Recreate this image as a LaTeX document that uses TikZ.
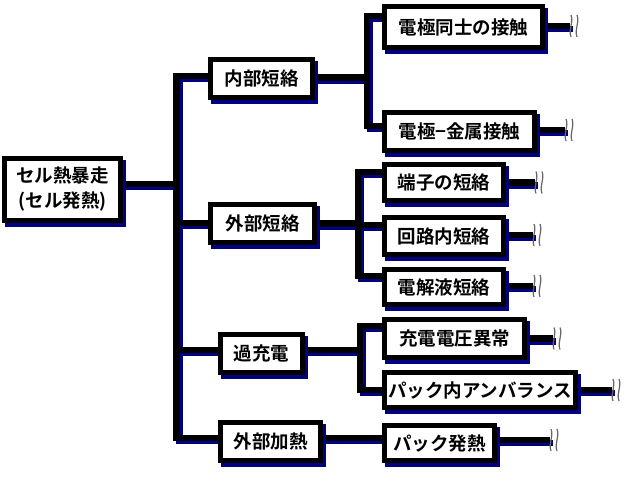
\documentclass[tikz,border=0pt]{standalone}
\usepackage{fontspec}
\newfontfamily\jp{Noto Sans CJK JP Bold}
\usetikzlibrary{shadows}
\definecolor{shblue}{RGB}{0,0,128}
\pgfdeclarelayer{bg}
\pgfsetlayers{bg,main}
\begin{document}
\begin{tikzpicture}[x=1pt,y=-1pt,
  box/.style={draw=black, line width=5pt, fill=white, inner sep=0pt,
    font=\jp\fontsize{18.5}{25}\selectfont, align=center,
    general shadow={fill=shblue, draw=shblue, line width=5pt, shadow xshift=3pt, shadow yshift=-3.5pt}},
  conn/.style={line width=6.5pt, draw=black,
    preaction={draw=shblue, line width=6.5pt, transform canvas={xshift=3pt, yshift=-3pt}}},
  brk/.pic={\draw[line width=1.2pt, black!60]
     (1,-11) .. controls (4,-3) and (-2,3) .. (1,11)
     (7,-11) .. controls (10,-3) and (4,3) .. (7,11);}
  ]
\useasboundingbox (0,0) rectangle (631,485);

% root and level 1
\node[box, minimum width=116pt, minimum height=62pt] (root) at (62.5,189.5) {セル熱暴走\\(セル発熱)};
\node[box, minimum width=102pt, minimum height=38pt] (n1) at (261.5,78.5) {内部短絡};
\node[box, minimum width=104pt, minimum height=38pt] (n2) at (262.5,223.5) {外部短絡};
\node[box, minimum width=82pt, minimum height=38pt] (n3) at (261.5,353.5) {過充電};
\node[box, minimum width=100pt, minimum height=38pt] (n4) at (270.5,441.5) {外部加熱};

% level 2
\node[box, minimum width=158pt, minimum height=41pt] (m1) at (463.5,27) {電極同士の接触};
\node[box, minimum width=150pt, minimum height=38pt] (m2) at (459.5,131.5) {電極−金属接触};
\node[box, minimum width=119pt, minimum height=36pt] (k1) at (444,182.5) {端子の短絡};
\node[box, minimum width=119pt, minimum height=37pt] (k2) at (444,236) {回路内短絡};
\node[box, minimum width=119pt, minimum height=35pt] (k3) at (444,287) {電解液短絡};
\node[box, minimum width=140pt, minimum height=38pt] (p1) at (454.5,338.5) {充電電圧異常};
\node[box, minimum width=191pt, minimum height=35pt] (p2) at (480,390) {パック内アンバランス};
\node[box, minimum width=110pt, minimum height=35pt] (q1) at (439.5,443) {パック発熱};

\coordinate (t0) at (176.5,184);
\coordinate (t1) at (367,77.5);
\coordinate (t2) at (358,223.5);
\coordinate (t3) at (360,350);

\begin{pgfonlayer}{bg}
\draw[conn]
  ([yshift=5.5pt]root.east) -- (t0)
  ([yshift=2.5pt]n1.west) -| (t0)
  ([yshift=0.5pt]n2.west) -| (t0)
  ([yshift=3.5pt]n3.west) -| (t0)
  ([yshift=3.5pt]n4.west) -| (t0)
  ([yshift=1pt]n1.east) -- (t1)
  ([yshift=11pt]m1.west) -| (t1)
  ([yshift=5.5pt]m2.west) -| (t1)
  (n2.east) -- (t2)
  ([yshift=10.5pt]k1.west) -| (t2)
  ([yshift=11pt]k2.west) -| (t2)
  ([yshift=11pt]k3.west) -| (t2)
  ([yshift=3.5pt]n3.east) -- (t3)
  ([yshift=12.5pt]p1.west) -| (t3)
  (p2.west) -| (t3)
  ([yshift=3.5pt]n4.east) -- ([yshift=5pt]q1.west)
  ([yshift=1pt]m1.east) -- ++(25,0) coordinate (e1)
  ([yshift=1.5pt]m2.east) -- ++(28,0) coordinate (e2)
  (k1.east) -- ++(29,0) coordinate (e3)
  ([yshift=1pt]k2.east) -- ++(27,0) coordinate (e4)
  ([yshift=1pt]k3.east) -- ++(27,0) coordinate (e5)
  (p1.east) -- ++(26,0) coordinate (e6)
  (p2.east) -- ++(34,0) coordinate (e7)
  ([yshift=3pt]q1.east) -- ++(53,0) coordinate (e8);
\end{pgfonlayer}

\foreach \i in {1,...,8} \pic at (e\i) {brk};
\end{tikzpicture}
\end{document}
